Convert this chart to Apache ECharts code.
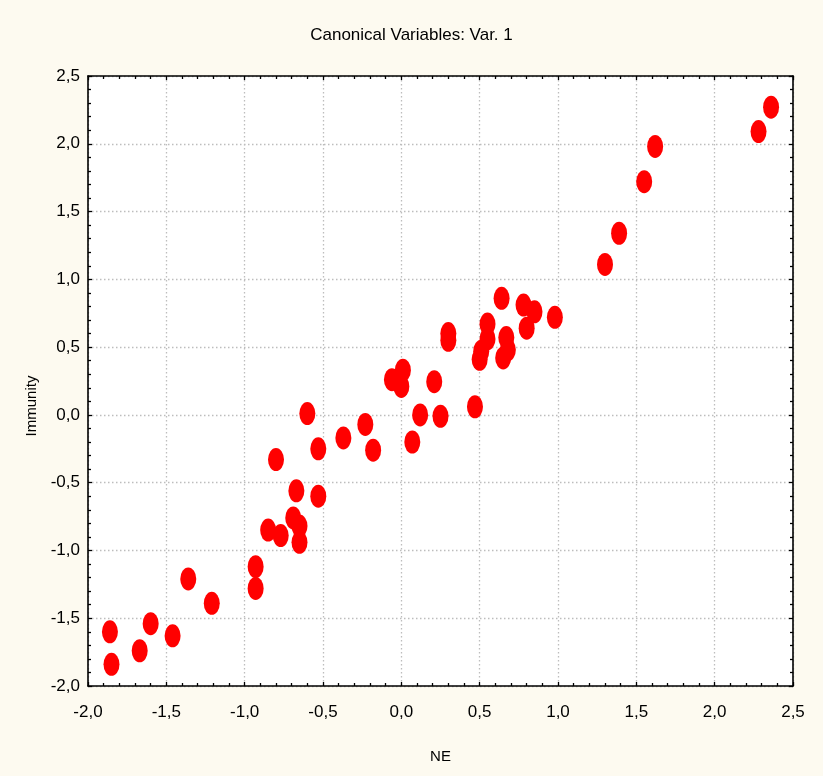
<!DOCTYPE html>
<html>
<head>
<meta charset="utf-8">
<script src="https://cdn.jsdelivr.net/npm/echarts@6/dist/echarts.min.js"></script>
<style>
html,body{margin:0;padding:0;background:#fdfaf0;}
#c{width:823px;height:776px;}
</style>
</head>
<body>
<div id="c"></div>
<script>
const xs = [-1.86,-1.85,-1.67,-1.60,-1.46,-1.36,-1.21,-0.93,-0.93,-0.85,-0.77,-0.80,-0.69,-0.65,-0.65,-0.67,-0.60,-0.53,-0.53,-0.37,-0.23,-0.18,-0.06,0.01,0.00,0.21,0.12,0.25,0.07,0.47,0.30,0.30,0.55,0.55,0.51,0.50,0.67,0.68,0.65,0.64,0.78,0.85,0.80,0.98,1.30,1.39,1.55,1.62,2.28,2.36];
const ys = [-1.60,-1.84,-1.74,-1.54,-1.63,-1.21,-1.39,-1.12,-1.28,-0.85,-0.89,-0.33,-0.76,-0.82,-0.94,-0.56,0.01,-0.25,-0.60,-0.17,-0.07,-0.26,0.26,0.33,0.21,0.245,0.00,-0.01,-0.20,0.06,0.60,0.55,0.67,0.56,0.47,0.41,0.57,0.48,0.42,0.86,0.81,0.76,0.64,0.72,1.11,1.34,1.72,1.98,2.09,2.27];
const xTicks = {min:-2, max:2.5, interval:0.5};
const yTicks = {min:-2, max:2.5, interval:0.5};
const titleText = 'Canonical Variables: Var. 1';
const xName = 'NE';
const yName = 'Immunity';

const points = xs.map((x,i)=>[x, ys[i]]);
const fmt = v => v.toFixed(1).replace('.', ',');
const narrow = '"Liberation Sans Narrow", "Liberation Sans", Arial, sans-serif';
const reg = '"Liberation Sans", Arial, sans-serif';

function axisCommon(showLabel, isMain){
  return {
    axisLine:{show:true, onZero:false, lineStyle:{color:'#000', width:1.6}},
    axisTick:{show:true, inside:true, length:4, lineStyle:{color:'#000', width:1.3}},
    minorTick:{show:true, splitNumber:5, length:3, lineStyle:{color:'#000', width:1.3}},
    axisLabel:{show:showLabel, formatter:fmt, color:'#000', fontFamily:narrow, fontSize:17},
    splitLine:{show:isMain, lineStyle:{color:'#bdbdbd', type:[1.5,2.5], width:1.3}},
    minorSplitLine:{show:false}
  };
}

const chart = echarts.init(document.getElementById('c'), null, {renderer:'canvas'});
chart.setOption({
  backgroundColor:'#fdfaf0',
  animation:false,
  title:{text:titleText, left:'center', top:22, textStyle:{fontFamily:narrow, fontSize:17, fontWeight:'normal', color:'#000'}},
  grid:{left:88, right:30, top:76, bottom:90, show:true, backgroundColor:'#fff', borderColor:'#000', borderWidth:0},
  xAxis:[
    Object.assign({type:'value', position:'bottom', min:xTicks.min, max:xTicks.max, interval:xTicks.interval,
      name:xName, nameLocation:'middle', nameGap:63, nameTextStyle:{fontFamily:reg, fontSize:15, color:'#000'}}, axisCommon(true,true),
      {axisLabel:{formatter:fmt, color:'#000', fontFamily:narrow, fontSize:17, margin:18}}),
    Object.assign({type:'value', position:'top', min:xTicks.min, max:xTicks.max, interval:xTicks.interval}, axisCommon(false,false))
  ],
  yAxis:[
    Object.assign({type:'value', position:'left', min:yTicks.min, max:yTicks.max, interval:yTicks.interval,
      name:yName, nameLocation:'middle', nameGap:48, nameTextStyle:{fontFamily:reg, fontSize:15, color:'#000', padding:[0,0,0,-50]}}, axisCommon(true,true),
      {axisLabel:{formatter:fmt, color:'#000', fontFamily:narrow, fontSize:17, margin:8}}),
    Object.assign({type:'value', position:'right', min:yTicks.min, max:yTicks.max, interval:yTicks.interval}, axisCommon(false,false))
  ],
  series:[{
    type:'scatter',
    data:points,
    symbol:'circle',
    symbolSize:[16,23],
    itemStyle:{color:'#ff0000', opacity:1},
    silent:true
  }]
});
</script>
</body>
</html>
